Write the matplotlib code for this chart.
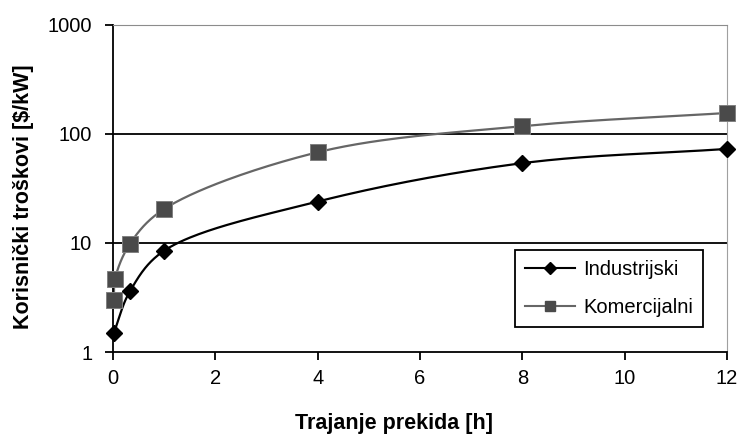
import numpy as np
import matplotlib.pyplot as plt

plt.rcParams['font.family'] = ['Liberation Sans', 'DejaVu Sans']

# trajanje prekida [h] i troskovi [$/kW]
ind_x = [1 / 60, 0.33, 1, 4, 8, 12]
ind_y = [1.5, 3.6, 8.5, 24, 54, 73]
kom_x = [1 / 60, 0.04, 0.33, 1, 4, 8, 12]
kom_y = [3.0, 4.7, 9.8, 20.5, 68, 118, 156]


def smooth(xs, ys, n=50, alpha=0.5):
    # centripetalni Catmull-Rom u prostoru (x, log y)
    sx, sy = 51.2, 109.0
    p = np.column_stack([np.array(xs) * sx, np.log10(ys) * sy])
    p = np.vstack([2 * p[0] - p[1], p, 2 * p[-1] - p[-2]])
    out = []
    for i in range(1, len(p) - 2):
        p0, p1, p2, p3 = p[i - 1], p[i], p[i + 1], p[i + 2]
        t0 = 0.0
        t1 = t0 + np.linalg.norm(p1 - p0) ** alpha
        t2 = t1 + np.linalg.norm(p2 - p1) ** alpha
        t3 = t2 + np.linalg.norm(p3 - p2) ** alpha
        t = np.linspace(t1, t2, n)[:, None]
        a1 = (t1 - t) / (t1 - t0) * p0 + (t - t0) / (t1 - t0) * p1
        a2 = (t2 - t) / (t2 - t1) * p1 + (t - t1) / (t2 - t1) * p2
        a3 = (t3 - t) / (t3 - t2) * p2 + (t - t2) / (t3 - t2) * p3
        b1 = (t2 - t) / (t2 - t0) * a1 + (t - t0) / (t2 - t0) * a2
        b2 = (t3 - t) / (t3 - t1) * a2 + (t - t1) / (t3 - t1) * a3
        out.append((t2 - t) / (t2 - t1) * b1 + (t - t1) / (t2 - t1) * b2)
    c = np.vstack(out)
    return c[:, 0] / sx, 10 ** (c[:, 1] / sy)


fig = plt.figure(figsize=(7.42, 4.37), dpi=100)
ax = fig.add_axes([113 / 742, 1 - 352 / 437, 614 / 742, 327 / 437])

ax.set_yscale('log')
ax.set_xlim(0, 12)
ax.set_ylim(1, 1000)

for yv in [10, 100]:
    ax.axhline(yv, color='black', lw=1.3, zorder=1)

kx, ky = smooth(kom_x, kom_y)
ix, iy = smooth(ind_x, ind_y)
ax.plot(kx, ky, color='#666666', lw=1.6, zorder=2)
ax.plot(ix, iy, color='black', lw=1.6, zorder=3)
ax.plot(kom_x, kom_y, 's', color='#4a4a4a', mec='#808080', mew=0.7, ms=11,
        zorder=4, clip_on=False)
ax.plot(ind_x, ind_y, 'D', color='black', ms=8, zorder=5, clip_on=False)

h1, = ax.plot([], [], color='black', marker='D', ms=6.5, lw=1.5)
h2, = ax.plot([], [], color='#666666', marker='s', mfc='#4a4a4a', mec='#4a4a4a', ms=7.5, lw=1.5)
leg = ax.legend([h1, h2], ['Industrijski', 'Komercijalni'], loc='lower right',
                bbox_to_anchor=(0.961, 0.0765), borderaxespad=0, fontsize=14.5,
                frameon=True, fancybox=False, handlelength=2.5, handletextpad=0.4,
                borderpad=0.5, labelspacing=0.95)
leg.get_frame().set_edgecolor('black')
leg.get_frame().set_linewidth(1.3)
leg.get_frame().set_alpha(None)

ax.spines['top'].set_color('#8c8c8c')
ax.spines['right'].set_color('#a0a0a0')
ax.spines['left'].set_linewidth(1.3)
ax.spines['bottom'].set_linewidth(1.3)

ax.set_xticks([0, 2, 4, 6, 8, 10, 12])
ax.set_yticks([1, 10, 100, 1000])
ax.set_yticklabels(['1', '10', '100', '1000'])
ax.minorticks_off()
ax.tick_params(axis='both', labelsize=14.5, length=6, width=1.3, direction='out')
ax.tick_params(axis='x', pad=6)
ax.tick_params(axis='y', pad=9)

ax.set_xlabel('Trajanje prekida [h]', fontsize=15.5, fontweight='bold')
ax.xaxis.set_label_coords((394 - 113) / 614, -(413 - 352) / 327)
ax.set_ylabel('Korisnički troškovi [$/kW]', fontsize=15.5, fontweight='bold')
ax.yaxis.set_label_coords(-(113 - 34) / 614, (352 - 197) / 327)

plt.savefig('out.png', dpi=100)
